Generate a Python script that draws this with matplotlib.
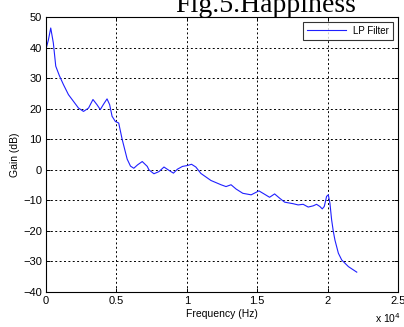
import matplotlib
matplotlib.use("Agg")
import matplotlib.pyplot as plt

freq = [0, 170, 336, 521, 693, 950, 1236, 1593, 1950, 2307, 2664, 3021, 3336, 3621,
        3857, 4093, 4336, 4521, 4693, 4929, 5164, 5407, 5764, 6000, 6236, 6500, 6836,
        7193, 7307, 7664, 8021, 8379, 8736, 9050, 9336, 9693, 10050, 10336, 10643,
        11000, 11714, 12429, 12786, 13143, 13500, 13979, 14571, 15121, 15521, 15879,
        16236, 16593, 16950, 17550, 17907, 18264, 18621, 18979, 19214, 19450, 19621,
        19764, 19929, 20050, 20164, 20286, 20407, 20521, 20764, 21000, 21479, 22071]
gain = [39.5, 42.5, 46.4, 41.5, 33.9, 30.8, 27.9, 24.6, 22.4, 20.2, 19.1, 20.2, 23.0, 21.3,
        19.7, 21.5, 23.2, 21.3, 17.5, 15.8, 15.3, 10.0, 3.5, 1.2, 0.5, 1.6, 2.7,
        1.1, 0.0, -1.3, -0.6, 0.9, -0.2, -1.1, 0.2, 1.1, 1.4, 1.8, 0.9,
        -1.2, -3.5, -4.9, -5.5, -4.9, -6.3, -7.7, -8.2, -6.9, -8.0, -9.0,
        -7.9, -9.3, -10.6, -11.1, -11.5, -11.3, -12.2, -11.8, -11.3, -12.0, -12.8,
        -12.0, -8.7, -8.2, -10.9, -16.4, -20.2, -23.0, -27.3, -29.5, -31.7, -33.5]
xticks = [0, 5000, 10000, 15000, 20000, 25000]
xticklabels = ["0", "0.5", "1", "1.5", "2", "2.5"]
yticks = [-40, -30, -20, -10, 0, 10, 20, 30, 40, 50]

plt.rcParams['font.family'] = ['Liberation Sans', 'DejaVu Sans']

fig = plt.figure(figsize=(4.04, 3.27), dpi=100)
ax = fig.add_axes([46/404, 1-292/327, (398-46)/404, (292-17)/327])
ax.plot(freq, gain, color='#2020ff', lw=0.8, label='LP Filter')
ax.set_xlim(0, 25000)
ax.set_ylim(-40, 50)
ax.set_xticks(xticks)
ax.set_xticklabels(xticklabels)
ax.set_yticks(yticks)
ax.grid(True, color='black', linestyle=(0, (2, 2.5)), linewidth=0.7)
ax.tick_params(direction='in', top=True, right=True, labelsize=8, length=3, width=0.7, pad=3)
for s in ax.spines.values():
    s.set_linewidth(0.8)
ax.set_xlabel('Frequency (Hz)', fontsize=7.5, labelpad=2)
ax.set_ylabel('Gain (dB)', fontsize=7.5, labelpad=2)
leg = ax.legend(loc='upper right', fontsize=7, frameon=True, fancybox=False,
                edgecolor='black', borderaxespad=0.5, handlelength=4, borderpad=0.4)
leg.get_frame().set_linewidth(0.8)
fig.text(375/404, 1-323/327, r'x 10$^{4}$', fontsize=7.5, ha='left', va='baseline')
fig.text(266/404, 1-12/327, 'Fig.5.Happiness', fontsize=20, family='Liberation Serif',
         ha='center', va='baseline')
fig.savefig('out.png', dpi=100)
